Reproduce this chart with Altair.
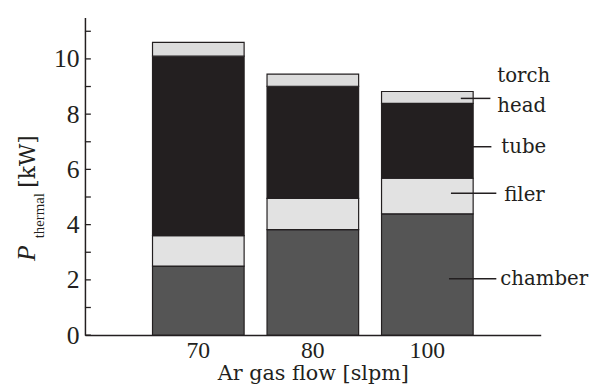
import altair as alt
import pandas as pd

# ---- data ----
flows = ["70", "80", "100"]
components = ["chamber", "filer", "tube", "torch head"]
chamber = [2.50, 3.82, 4.39]
filer = [1.10, 1.13, 1.29]
tube = [6.50, 4.06, 2.71]
torch_head = [0.50, 0.44, 0.43]

y_major = [0, 2, 4, 6, 8, 10]
y_minor = [1, 3, 5, 7, 9, 11]

# annotation labels (text, y in kW)
ann_text = ["torch", "head", "tube", "filer", "chamber"]
ann_y = [9.36, 8.29, 6.82, 5.07, 2.04]
# leader lines y (kW)
lead_y = [8.57, 6.82, 5.14, 2.04]

# ---- styles ----
colors = ["#555555", "#e2e2e2", "#231f20", "#dcdcdc"]
ink = "#231f20"
serif = "Liberation Serif"
serif2 = "DejaVu Serif"

rows = []
for i, f in enumerate(flows):
    for k, (comp, vals) in enumerate(zip(components, [chamber, filer, tube, torch_head])):
        rows.append({"flow": f, "component": comp, "value": vals[i], "order": k})
df = pd.DataFrame(rows)

yscale = alt.Scale(domain=[0, 11.5], nice=False, zero=True)

bars = alt.Chart(df).mark_bar(stroke=ink, strokeWidth=1.2).encode(
    x=alt.X("flow:N", sort=flows,
            scale=alt.Scale(paddingInner=0.2, paddingOuter=0.59),
            axis=alt.Axis(title="Ar gas flow [slpm]", labelAngle=0, ticks=False,
                          labelFont=serif, labelFontSize=24, labelColor=ink,
                          labelPadding=4, domainColor=ink, domainWidth=1.5,
                          titleFont=serif2, titleFontSize=21, titleFontWeight="normal",
                          titleColor=ink, titlePadding=0)),
    y=alt.Y("value:Q", stack="zero", scale=yscale,
            axis=alt.Axis(title=None, values=y_major, ticks=False, grid=False,
                          labelFont=serif, labelFontSize=26, labelColor=ink,
                          labelPadding=6, domainColor=ink, domainWidth=1.5)),
    color=alt.Color("component:N", scale=alt.Scale(domain=components, range=colors), legend=None),
    order=alt.Order("order:Q"),
)

ticks_df = pd.DataFrame({"v": y_major + y_minor})
yticks = alt.Chart(ticks_df).mark_rule(color=ink, strokeWidth=1.3).encode(
    x=alt.value(0), x2=alt.value(6),
    y=alt.Y("v:Q", scale=yscale),
)

lead_df = pd.DataFrame({"y": lead_y, "x1": [381, 392, 371, 369], "x2": [411, 412, 417, 417]})
leaders = alt.Chart(lead_df).mark_rule(color=ink, strokeWidth=1.5).encode(
    x=alt.X("x1:Q", scale=None), x2="x2:Q",
    y=alt.Y("y:Q", scale=yscale),
)

ann_df = pd.DataFrame({"t": ann_text, "y": ann_y, "x": [418, 418, 422, 425, 421]})
labels = alt.Chart(ann_df).mark_text(align="left", baseline="middle", font=serif2,
                                     fontSize=20, color=ink).encode(
    x=alt.X("x:Q", scale=None),
    y=alt.Y("y:Q", scale=yscale),
    text="t:N",
)

title_df = pd.DataFrame({"t": ["P", "thermal", "[kW]"],
                         "x": [-59, -47, -58], "y": [239, 201, 146]})
tP = alt.Chart(title_df.iloc[[0]]).mark_text(angle=270, font=serif, fontSize=26, fontStyle="italic",
                                             color=ink, baseline="middle", align="center").encode(
    x=alt.X("x:Q", scale=None), y=alt.Y("y:Q", scale=None), text="t:N")
tSub = alt.Chart(title_df.iloc[[1]]).mark_text(angle=270, font=serif, fontSize=15,
                                               color=ink, baseline="middle", align="center").encode(
    x=alt.X("x:Q", scale=None), y=alt.Y("y:Q", scale=None), text="t:N")
tKW = alt.Chart(title_df.iloc[[2]]).mark_text(angle=270, font=serif2, fontSize=22,
                                              color=ink, baseline="middle", align="center").encode(
    x=alt.X("x:Q", scale=None), y=alt.Y("y:Q", scale=None), text="t:N")

chart = alt.layer(bars, yticks, leaders, labels, tP, tSub, tKW).properties(
    width=462, height=322,
    autosize=alt.AutoSizeParams(type="none"),
    padding={"left": 78, "top": 7, "right": 53, "bottom": 50},
).configure_view(stroke=None).configure_axis(grid=False)

chart.save("out.html", embed_options={"renderer": "svg", "actions": False})
